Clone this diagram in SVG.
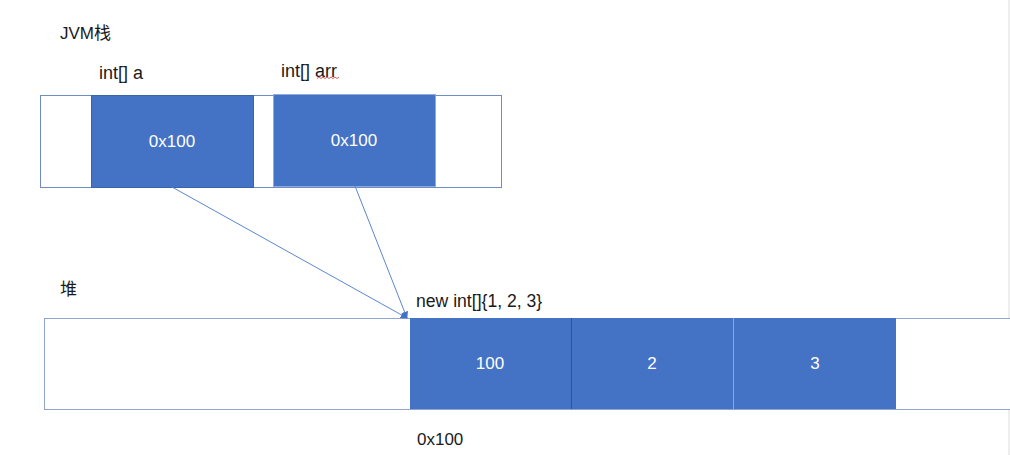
<svg xmlns="http://www.w3.org/2000/svg" width="1010" height="471" viewBox="0 0 1010 471">
<style>
.frame{fill:#ffffff;stroke:#6f8cc4;stroke-width:1}
.cell{fill:#4472c4;stroke:#3a63ad;stroke-width:1}
.lbl{font-family:"Liberation Sans","Noto Sans CJK SC",sans-serif;font-size:17px;fill:#1a1a1a}
.val{font-family:"Liberation Sans","Noto Sans CJK SC",sans-serif;font-size:17px;fill:#ffffff;text-anchor:middle}
.conn{stroke:#5b86d0;stroke-width:1;fill:none}
</style>
<defs>
<marker id="arrow" viewBox="0 0 10 10" refX="9" refY="5" markerWidth="7" markerHeight="7" orient="auto-start-reverse" markerUnits="userSpaceOnUse">
<path d="M0,0 L10,5 L0,10 z" fill="#4472c4"/>
</marker>
</defs>
<rect x="0" y="0" width="1010" height="471" fill="#ffffff"/>
<line x1="1009" y1="0" x2="1009" y2="455" stroke="#dcdcdc" stroke-width="1"/>

<g id="stack-title"><text class="lbl" x="60" y="39">JVM栈</text></g>

<g id="stack">
<rect class="frame" x="40.5" y="95.5" width="461" height="92"/>
</g>

<g id="var-a">
<text class="lbl" x="99" y="79" style="font-size:18px">int[] a</text>
<rect class="cell" x="91.5" y="95.5" width="162" height="92"/>
<text class="val" x="172" y="147">0x100</text>
</g>

<g id="var-arr">
<text class="lbl" x="281" y="77" style="font-size:18px">int[] arr</text>
<path d="M317,78.5 l2,-1.5 l2,1.5 l2,-1.5 l2,1.5 l2,-1.5 l2,1.5 l2,-1.5 l2,1.5 l2,-1.5 l2,1.5 l2,-1.5" fill="none" stroke="#e03030" stroke-width="0.8"/>
<rect class="cell" x="273.5" y="94.5" width="162" height="92" style="stroke:#8faadc"/>
<text class="val" x="354" y="146">0x100</text>
</g>

<g id="heap-title"><text class="lbl" x="60" y="295">堆</text></g>

<g id="heap">
<rect class="frame" x="44.5" y="318.5" width="980" height="91" style="stroke:#8fa5cf"/>
</g>

<g id="array">
<text class="lbl" x="416" y="307" style="font-size:17.6px">new int[]{1, 2, 3}</text>
<rect x="410" y="318" width="486" height="91" fill="#4472c4"/>
<line x1="571.5" y1="318" x2="571.5" y2="409" stroke="#2f5597" stroke-width="1"/>
<line x1="733.5" y1="318" x2="733.5" y2="409" stroke="#9aa6bb" stroke-width="1"/>
<text class="val" x="490" y="369">100</text>
<text class="val" x="652" y="369">2</text>
<text class="val" x="815" y="369">3</text>
<text class="lbl" x="417" y="445">0x100</text>
</g>

<g id="connectors">
<line class="conn" x1="172" y1="187" x2="407" y2="318" marker-end="url(#arrow)"/>
<line class="conn" x1="355" y1="186" x2="407" y2="318" marker-end="url(#arrow)"/>
</g>
</svg>
